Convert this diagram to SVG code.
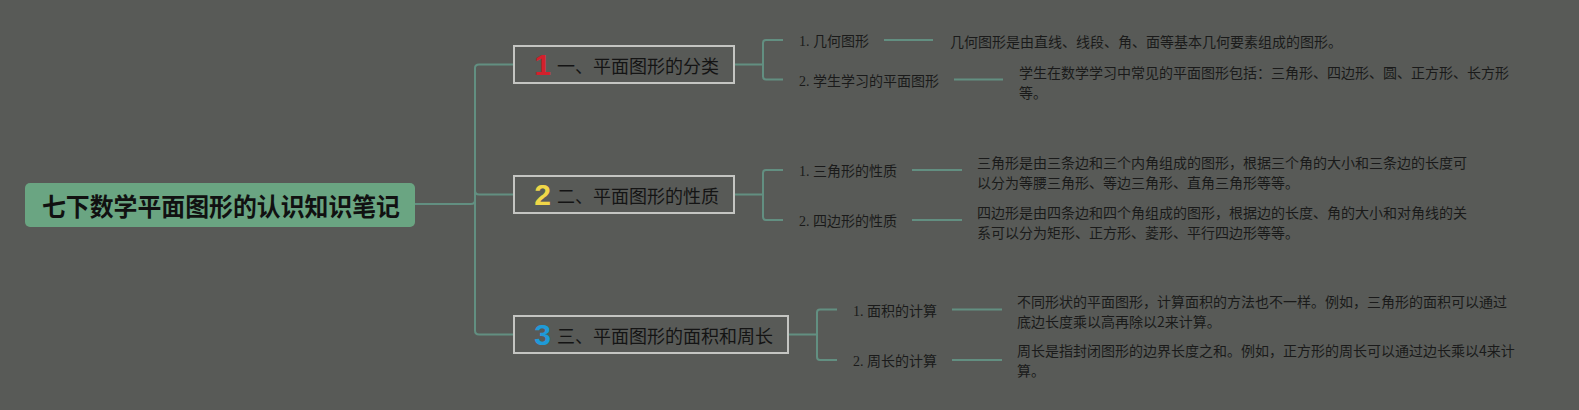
<svg xmlns="http://www.w3.org/2000/svg" width="1579" height="410" viewBox="0 0 1579 410">
<style>
.bg{fill:#585a57}
.ln{fill:none;stroke:#628f81;stroke-width:2}
.box{fill:#585a57;stroke:#c4c5c2;stroke-width:2}
.rt{font-family:"Noto Sans CJK SC","Noto Sans",sans-serif;font-size:25px;font-weight:bold;fill:#111;dominant-baseline:central}
.bt{font-family:"Noto Sans CJK SC","Noto Sans",sans-serif;font-size:18px;fill:#141414;dominant-baseline:central}
.num{font-family:"Liberation Sans",Arial,sans-serif;font-weight:bold;font-size:30px;text-anchor:middle;dominant-baseline:central}
.lb{font-family:"Liberation Serif","Noto Sans CJK SC",serif;font-size:14px;fill:#1a1a1a;dominant-baseline:central}
.ds{font-family:"Noto Sans CJK SC","Noto Sans",sans-serif;font-size:14px;fill:#1a1a1a;dominant-baseline:central}
</style>
<rect class="bg" x="0" y="0" width="1579" height="410"/>
<g id="connectors">
<path class="ln" d="M415,204 H471 Q475,204 475,200 V68 Q475,64.5 479,64.5 H514"/>
<path class="ln" d="M475,200 V190.5 Q475,194.5 479,194.5 H514"/>
<path class="ln" d="M475,200 V330.5 Q475,334.5 479,334.5 H514"/>
<path class="ln" d="M734,64.5 H763 M783,40 H766 Q763,40 763,43 V76.5 Q763,79.5 766,79.5 H783"/>
<path class="ln" d="M734,194.5 H763 M783,170 H766 Q763,170 763,173 V217 Q763,220 766,220 H783"/>
<path class="ln" d="M788,334.5 H817 M837,309.5 H820 Q817,309.5 817,312.5 V357 Q817,360 820,360 H837"/>
<path class="ln" d="M884,40 H933 M954,79.5 H1003 M912,170 H962 M912,220 H962 M952,309.5 H1002 M952,360 H1002"/>
</g>
<g id="root">
<rect x="25" y="183" width="390" height="44" rx="5" fill="#6aa582"/>
<text class="rt" x="42" y="205" textLength="358" lengthAdjust="spacingAndGlyphs">七下数学平面图形的认识知识笔记</text>
</g>
<g id="topic1">
<rect class="box" x="514" y="46" width="220" height="37"/>
<text class="num" x="542.5" y="64" fill="#d4202c">1</text>
<text class="bt" x="557" y="64.5">一、平面图形的分类</text>
</g>
<g id="topic2">
<rect class="box" x="514" y="176" width="220" height="37"/>
<text class="num" x="542.5" y="194" fill="#f0d648">2</text>
<text class="bt" x="557" y="194.5">二、平面图形的性质</text>
</g>
<g id="topic3">
<rect class="box" x="514" y="316" width="274" height="37"/>
<text class="num" x="542.5" y="334" fill="#1f9ad8">3</text>
<text class="bt" x="557" y="334.5">三、平面图形的面积和周长</text>
</g>
<g id="t1c1"><text class="lb" x="799" y="41">1. 几何图形</text></g>
<g id="t1c1d"><text class="ds" x="950" y="41">几何图形是由直线、线段、角、面等基本几何要素组成的图形。</text></g>
<g id="t1c2"><text class="lb" x="799" y="81">2. 学生学习的平面图形</text></g>
<g id="t1c2d"><text class="ds" x="1019" y="72">学生在数学学习中常见的平面图形包括：三角形、四边形、圆、正方形、长方形</text><text class="ds" x="1019" y="92">等。</text></g>
<g id="t2c1"><text class="lb" x="799" y="171.5">1. 三角形的性质</text></g>
<g id="t2c1d"><text class="ds" x="977" y="162">三角形是由三条边和三个内角组成的图形，根据三个角的大小和三条边的长度可</text><text class="ds" x="977" y="182">以分为等腰三角形、等边三角形、直角三角形等等。</text></g>
<g id="t2c2"><text class="lb" x="799" y="221.5">2. 四边形的性质</text></g>
<g id="t2c2d"><text class="ds" x="977" y="211.5">四边形是由四条边和四个角组成的图形，根据边的长度、角的大小和对角线的关</text><text class="ds" x="977" y="231.5">系可以分为矩形、正方形、菱形、平行四边形等等。</text></g>
<g id="t3c1"><text class="lb" x="853" y="311">1. 面积的计算</text></g>
<g id="t3c1d"><text class="ds" x="1017" y="301">不同形状的平面图形，计算面积的方法也不一样。例如，三角形的面积可以通过</text><text class="ds" x="1017" y="321">底边长度乘以高再除以2来计算。</text></g>
<g id="t3c2"><text class="lb" x="853" y="361">2. 周长的计算</text></g>
<g id="t3c2d"><text class="ds" x="1017" y="350">周长是指封闭图形的边界长度之和。例如，正方形的周长可以通过边长乘以4来计</text><text class="ds" x="1017" y="370">算。</text></g>
</svg>
